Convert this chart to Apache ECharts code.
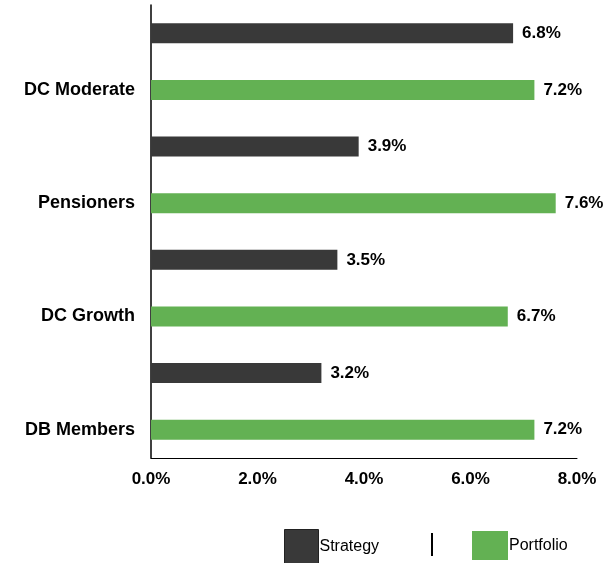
<!DOCTYPE html>
<html>
<head>
<meta charset="utf-8">
<script src="https://cdn.jsdelivr.net/npm/echarts@6/dist/echarts.min.js"></script>
<style>
  html, body { margin: 0; padding: 0; background: #fff; }
  #main { width: 611px; height: 563px; }
</style>
</head>
<body>
<div id="main"></div>
<script>
var categories = ['DB Members', 'DC Growth', 'Pensioners', 'DC Moderate'];
var portfolio = [7.2, 6.7, 7.6, 7.2];
var strategy = [3.2, 3.5, 3.9, 6.8];
var xTicks = [0, 2, 4, 6, 8];

// each category gets two rows: portfolio below, strategy above
var rows = [], portData = [], stratData = [];
for (var i = 0; i < categories.length; i++) {
  rows.push(categories[i]);
  portData.push(portfolio[i]);
  stratData.push('-');
  rows.push(categories[i] + ' strategy');
  portData.push('-');
  stratData.push(strategy[i]);
}

var myChart = echarts.init(document.getElementById('main'));
var labelStyle = {
  show: true,
  position: 'right',
  distance: 9,
  color: '#000',
  fontWeight: 'bold',
  fontSize: 17,
  fontFamily: 'Liberation Sans',
  formatter: function (p) { return p.value.toFixed(1) + '%'; }
};
var legendText = { color: '#000', fontSize: 16, fontFamily: 'Liberation Sans', padding: [0, 0, 0, -4] };

var option = {
  animation: false,
  grid: { left: 151, right: 34, top: 5, bottom: 105, containLabel: false },
  xAxis: {
    type: 'value',
    min: xTicks[0],
    max: xTicks[xTicks.length - 1],
    interval: 2,
    splitLine: { show: false },
    axisTick: { show: false },
    axisLine: { show: true, lineStyle: { color: '#000', width: 1 } },
    axisLabel: {
      margin: 13,
      color: '#000',
      fontWeight: 'bold',
      fontSize: 17,
      fontFamily: 'Liberation Sans',
      formatter: function (v) { return v.toFixed(1) + '%'; }
    }
  },
  yAxis: {
    type: 'category',
    data: rows,
    axisTick: { show: false },
    axisLine: { show: true, lineStyle: { color: '#000', width: 1.5 } },
    axisLabel: {
      interval: 0,
      margin: 16,
      color: '#000',
      fontWeight: 'bold',
      fontSize: 18,
      fontFamily: 'Liberation Sans',
      formatter: function (v, idx) { return idx % 2 === 0 ? v : ''; }
    }
  },
  legend: [
    {
      data: [{ name: 'Strategy', icon: 'rect' }], left: 279, top: 524, itemWidth: 34, itemHeight: 34,
      itemGap: 0, textStyle: legendText,
      itemStyle: { borderColor: '#222', borderWidth: 1 }
    },
    {
      data: [{ name: 'Portfolio', icon: 'rect' }], left: 467, top: 526, itemWidth: 36, itemHeight: 29,
      itemGap: 0, textStyle: legendText
    }
  ],
  graphic: [{
    type: 'line',
    shape: { x1: 432, y1: 533, x2: 432, y2: 556 },
    style: { stroke: '#000', lineWidth: 2 }
  }],
  series: [
    {
      name: 'Portfolio',
      type: 'bar',
      data: portData,
      barWidth: 20,
      barGap: '-100%',
      itemStyle: { color: '#63b153' },
      label: labelStyle
    },
    {
      name: 'Strategy',
      type: 'bar',
      data: stratData,
      barWidth: 20,
      itemStyle: { color: '#393939' },
      label: labelStyle
    }
  ]
};
myChart.setOption(option);
</script>
</body>
</html>
